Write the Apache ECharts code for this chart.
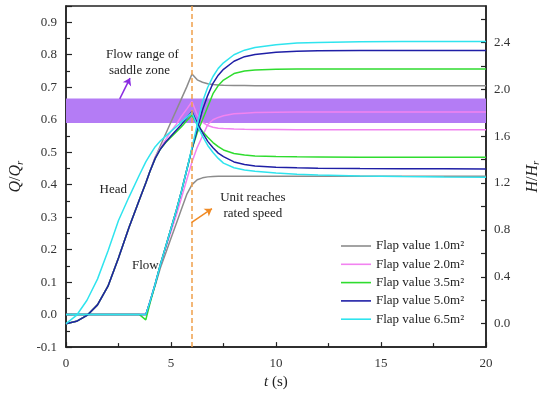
<!DOCTYPE html>
<html>
<head>
<meta charset="utf-8">
<script src="https://cdn.jsdelivr.net/npm/echarts@6/dist/echarts.min.js"></script>
<style>html,body{margin:0;padding:0;background:#fff}#c{width:550px;height:395px}</style>
</head>
<body>
<div id="c"></div>
<script>
// time grid (s)
const T = [0,0.5,1,1.5,2,2.5,3,3.5,3.8,4,4.25,4.5,4.75,5,5.25,5.5,5.75,6,6.25,6.5,6.75,7,7.25,7.5,8,8.5,9,10,11,12,14,16,18,20];

const flapNames = ['Flap value 1.0m²','Flap value 2.0m²','Flap value 3.5m²','Flap value 5.0m²','Flap value 6.5m²'];

// Head H/Hr (right axis)
const headGray  = [0,0.02,0.07,0.16,0.32,0.56,0.82,1.06,1.2,1.3,1.42,1.52,1.62,1.72,1.82,1.92,2.02,2.13,2.08,2.06,2.047,2.04,2.036,2.034,2.032,2.031,2.03,2.03,2.03,2.03,2.03,2.03,2.03,2.03];
const headPink  = [0,0.02,0.07,0.16,0.32,0.56,0.82,1.06,1.2,1.3,1.42,1.5,1.57,1.64,1.7,1.77,1.83,1.895,1.78,1.72,1.69,1.675,1.668,1.664,1.66,1.658,1.657,1.656,1.655,1.655,1.655,1.655,1.655,1.655];
const headGreen = [0,0.02,0.07,0.16,0.32,0.56,0.82,1.06,1.2,1.3,1.41,1.49,1.545,1.59,1.635,1.68,1.73,1.78,1.7,1.64,1.59,1.545,1.51,1.482,1.452,1.438,1.431,1.426,1.423,1.422,1.42,1.42,1.42,1.42];
const headBlue  = [0,0.02,0.07,0.16,0.32,0.56,0.82,1.06,1.2,1.3,1.41,1.49,1.55,1.6,1.65,1.7,1.755,1.81,1.71,1.63,1.555,1.5,1.455,1.425,1.38,1.358,1.345,1.335,1.33,1.326,1.323,1.322,1.321,1.32];
const headCyan  = [0,0.07,0.2,0.38,0.62,0.88,1.08,1.27,1.38,1.44,1.51,1.56,1.6,1.64,1.68,1.72,1.76,1.8,1.69,1.6,1.52,1.46,1.41,1.37,1.33,1.31,1.3,1.285,1.275,1.268,1.26,1.255,1.252,1.25];

// Flow Q/Qr (left axis)
const flowGray  = [0,0,0,0,0,0,0,0,0,0.04,0.09,0.145,0.19,0.235,0.28,0.325,0.37,0.40,0.415,0.421,0.424,0.425,0.4256,0.4256,0.4256,0.4256,0.4256,0.4256,0.4256,0.4256,0.4256,0.4256,0.4256,0.4256];
const flowPink  = [0,0,0,0,0,0,0,0,0,0.04,0.095,0.153,0.205,0.255,0.305,0.36,0.415,0.47,0.515,0.55,0.585,0.6,0.607,0.612,0.618,0.62,0.622,0.623,0.624,0.624,0.624,0.624,0.624,0.624];
const flowGreen = [0,0,0,0,0,0,0,0,-0.016,0.035,0.093,0.155,0.21,0.265,0.32,0.38,0.445,0.51,0.56,0.6,0.64,0.68,0.705,0.722,0.742,0.75,0.753,0.755,0.756,0.756,0.756,0.756,0.756,0.756];
const flowBlue  = [0,0,0,0,0,0,0,0,0,0.04,0.095,0.155,0.21,0.265,0.32,0.38,0.445,0.51,0.57,0.63,0.675,0.712,0.737,0.755,0.78,0.794,0.801,0.808,0.811,0.812,0.813,0.813,0.813,0.813];
const flowCyan  = [0,0,0,0,0,0,0,0,0,0.04,0.095,0.155,0.21,0.265,0.32,0.38,0.445,0.515,0.585,0.655,0.7,0.733,0.758,0.775,0.8,0.814,0.822,0.831,0.836,0.838,0.84,0.841,0.841,0.841];

// saddle zone flow range
const saddleRange = [0.59, 0.665];
const ratedTime = 6;

const colors = ['#8c8c8c','#f283f0','#2fdc2f','#1f1fa6','#2fe4ee'];
const heads = [headGray, headPink, headGreen, headBlue, headCyan];
const flows = [flowGray, flowPink, flowGreen, flowBlue, flowCyan];

const FONT = 'Liberation Serif';
const chart = echarts.init(document.getElementById('c'));

const series = [];
// saddle band (underneath)
series.push({
  type:'line', yAxisIndex:0, data:[], silent:true, z:1,
  markArea:{silent:true, itemStyle:{color:'#b47cf5'},
    data:[[{xAxis:0, yAxis:saddleRange[0]},{xAxis:20, yAxis:saddleRange[1]}]]}
});
for (let k=0;k<5;k++){
  const c = colors[k];
  series.push({name:flapNames[k], type:'line', yAxisIndex:1, symbol:'none', smooth:false, z:2,
    data:T.map((t,i)=>[t,heads[k][i]]), lineStyle:{color:c,width:1.5}, itemStyle:{color:c}});
  series.push({name:flapNames[k], type:'line', yAxisIndex:0, symbol:'none', smooth:false, z:2,
    data:T.map((t,i)=>[t,flows[k][i]]), lineStyle:{color:c,width:1.5}, itemStyle:{color:c}});
}
// dashed rated-speed line
series.push({type:'line', yAxisIndex:0, data:[], silent:true, z:3,
  markLine:{silent:true, symbol:'none', label:{show:false}, animation:false,
    lineStyle:{color:'#f0a04b', type:[5,3], width:1.5},
    data:[{xAxis:ratedTime}]}});
// arrows
series.push({type:'line', yAxisIndex:0, data:[], silent:true, z:4,
  markLine:{silent:true, symbol:['none','arrow'], symbolSize:7, label:{show:false}, animation:false,
    data:[
      [{coord:[2.56,0.664], lineStyle:{color:'#8a2be2',width:1.5,type:'solid'}},{coord:[3.05,0.728]}],
      [{coord:[5.97,0.283], lineStyle:{color:'#f08a24',width:1.5,type:'solid'}},{coord:[6.95,0.326]}]
    ]}});

const axisLine = {show:true, onZero:false, lineStyle:{color:'#222', width:1.5}};
const option = {
  animation:false,
  backgroundColor:'#fff',
  grid:{left:62, right:58, top:6, bottom:44, show:true, borderColor:'#222', borderWidth:1.5, backgroundColor:'transparent'},
  legend:{
    data:flapNames.map(n=>({name:n, icon:'rect'})), orient:'vertical', left:336, top:234,
    itemWidth:30, itemHeight:1.6, itemGap:4.3,
    textStyle:{fontFamily:FONT, fontSize:13, lineHeight:14, color:'#222'}
  },
  xAxis:{type:'value', min:0, max:20, interval:5,
    name:'{i|t} (s)', nameLocation:'middle', nameGap:26,
    nameTextStyle:{fontFamily:FONT, fontSize:15, color:'#222', rich:{i:{fontStyle:'italic', fontFamily:FONT, fontSize:15, color:'#222'}}},
    axisLine:axisLine, axisTick:{inside:true, length:5, lineStyle:{color:'#222',width:1.2}},
    minorTick:{show:true, splitNumber:2, length:4, lineStyle:{color:'#222',width:1.2}},
    splitLine:{show:false},
    axisLabel:{fontFamily:FONT, fontSize:13, color:'#333', margin:10}},
  yAxis:[
    {type:'value', min:-0.1, max:0.95, interval:0.1, position:'left',
      name:'{i|Q}/{i|Q}{s|r}', nameLocation:'middle', nameGap:36, nameRotate:90,
      nameTextStyle:{fontFamily:FONT, fontSize:16, color:'#222',
        rich:{i:{fontStyle:'italic', fontFamily:FONT, fontSize:16, color:'#222'}, s:{fontStyle:'italic', fontFamily:FONT, fontSize:11, color:'#222', padding:[8,0,0,0]}}},
      axisLine:axisLine, axisTick:{inside:true, length:6, lineStyle:{color:'#222',width:1.2}},
      minorTick:{show:true, splitNumber:2, length:4, lineStyle:{color:'#222',width:1.2}},
      splitLine:{show:false},
      axisLabel:{fontFamily:FONT, fontSize:13, color:'#333', margin:9, showMaxLabel:false,
        formatter:v=>v.toFixed(1)}},
    {type:'value', min:-0.2, max:2.71, interval:0.2, position:'right',
      name:'{i|H}/{i|H}{s|r}', nameLocation:'middle', nameGap:37, nameRotate:90,
      nameTextStyle:{fontFamily:FONT, fontSize:16, color:'#222',
        rich:{i:{fontStyle:'italic', fontFamily:FONT, fontSize:16, color:'#222'}, s:{fontStyle:'italic', fontFamily:FONT, fontSize:11, color:'#222', padding:[8,0,0,0]}}},
      axisLine:axisLine, axisTick:{inside:true, length:5, lineStyle:{color:'#222',width:1.2}},
      splitLine:{show:false},
      axisLabel:{fontFamily:FONT, fontSize:13, color:'#333', margin:8, showMaxLabel:false, showMinLabel:false,
        formatter:v=>{const r=Math.round(v*10); return (r>=0 && r%4===0)? (r/10).toFixed(1) : '';}}}
  ],
  series:series
};
chart.setOption(option);

// text annotations placed in data coordinates (left axis)
const notes = [
  {text:'Flow range of', at:[3.64,0.80]},
  {text:'saddle zone', at:[3.5,0.75]},
  {text:'Head', at:[2.25,0.384]},
  {text:'Flow', at:[3.78,0.152]},
  {text:'Unit reaches', at:[8.9,0.36]},
  {text:'rated speed', at:[8.9,0.31]}
];
chart.setOption({graphic:notes.map(n=>{
  const p = chart.convertToPixel({xAxisIndex:0, yAxisIndex:0}, n.at);
  return {type:'text', x:p[0], y:p[1], z:100,
    style:{text:n.text, fontFamily:FONT, fontSize:13, fill:'#222', align:'center', verticalAlign:'middle'}};
})});
</script>
</body>
</html>
